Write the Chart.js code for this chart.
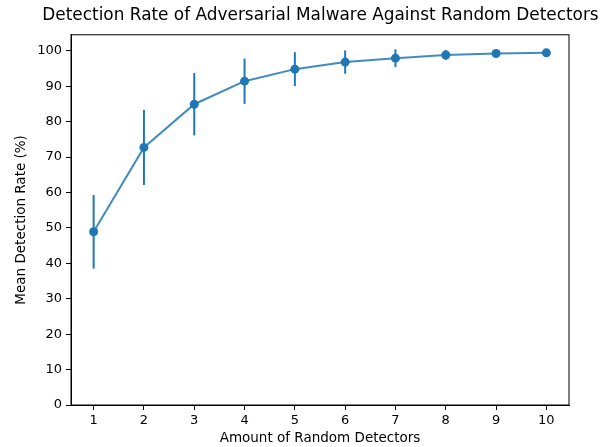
<!DOCTYPE html>
<html>
<head>
<meta charset="utf-8">
<script src="https://cdn.jsdelivr.net/npm/chart.js@4.4.0/dist/chart.umd.min.js"></script>
<style>
  html, body { margin: 0; padding: 0; background: #fff; }
  #wrap { width: 605px; height: 447px; }
</style>
</head>
<body>
<div id="wrap"><canvas id="detChart"></canvas></div>
<script>
// data
const detectors = [1, 2, 3, 4, 5, 6, 7, 8, 9, 10];
const meanRate = [48.9, 72.7, 84.9, 91.4, 94.8, 96.8, 97.9, 98.8, 99.2, 99.4];
const rateErr = [10.4, 10.6, 8.8, 6.4, 4.8, 3.3, 2.5, 1.4, 0.7, 0.3];
const yTicks = [0, 10, 20, 30, 40, 50, 60, 70, 80, 90, 100];

const blue = "#1f77b4";
const font = "DejaVu Sans";

// vertical error bars, no caps
const errorBars = {
  id: "errorBars",
  afterDatasetsDraw(chart) {
    const ctx = chart.ctx;
    const xs = chart.scales.x;
    const ys = chart.scales.y;
    ctx.save();
    ctx.strokeStyle = blue;
    ctx.lineWidth = 2;
    detectors.forEach((d, i) => {
      const px = xs.getPixelForValue(d);
      ctx.beginPath();
      ctx.moveTo(px, ys.getPixelForValue(meanRate[i] - rateErr[i]));
      ctx.lineTo(px, ys.getPixelForValue(meanRate[i] + rateErr[i]));
      ctx.stroke();
    });
    ctx.restore();
  },
};

// box around the plot area
const frame = {
  id: "frame",
  afterDraw(chart) {
    const a = chart.chartArea;
    const ctx = chart.ctx;
    ctx.save();
    ctx.strokeStyle = "#000";
    ctx.lineWidth = 1;
    ctx.strokeRect(a.left, a.top, a.right - a.left, a.bottom - a.top);
    ctx.restore();
  },
};

const ctx = document.getElementById("detChart").getContext("2d");

new Chart(ctx, {
  type: "scatter",
  data: {
    datasets: [{
      label: "Mean detection rate",
      data: detectors.map((d, i) => ({ x: d, y: meanRate[i] })),
      showLine: true,
      borderColor: "rgba(31,119,180,0.85)",
      borderWidth: 2,
      backgroundColor: blue,
      pointBackgroundColor: blue,
      pointBorderColor: blue,
      pointRadius: 4.5,
      pointBorderWidth: 0,
      tension: 0,
    }],
  },
  options: {
    responsive: true,
    maintainAspectRatio: false,
    animation: false,
    // left padding + empty right axis keep the title centred over the plot
    layout: { padding: { left: 36, right: 0, top: 0, bottom: 0 } },
    plugins: {
      legend: { display: false },
      tooltip: { enabled: false },
      title: {
        display: true,
        text: "Detection Rate of Adversarial Malware Against Random Detectors",
        color: "#000",
        font: { family: font, size: 16.9, weight: "normal", lineHeight: 1.2 },
        padding: { top: 5, bottom: 9.5 },
      },
    },
    scales: {
      x: {
        type: "linear",
        min: 0.55,
        max: 10.45,
        afterBuildTicks(scale) {
          scale.ticks = detectors.map(v => ({ value: v }));
        },
        afterFit(scale) { scale.height = 42; },
        grid: { drawOnChartArea: false, drawTicks: true, tickLength: 5, color: "#000" },
        border: { display: true, color: "#000" },
        ticks: { color: "#000", font: { family: font, size: 13 }, padding: 3, maxRotation: 0 },
        title: {
          display: true,
          text: "Amount of Random Detectors",
          color: "#000",
          font: { family: font, size: 13.5 },
          padding: { top: 0, bottom: 0 },
        },
      },
      y: {
        min: 0,
        max: 104.5,
        afterBuildTicks(scale) {
          scale.ticks = yTicks.map(v => ({ value: v }));
        },
        afterFit(scale) { scale.width = 35; },
        grid: { drawOnChartArea: false, drawTicks: true, tickLength: 5, color: "#000" },
        border: { display: true, color: "#000" },
        ticks: { color: "#000", font: { family: font, size: 13 }, padding: 4 },
        title: {
          display: true,
          text: "Mean Detection Rate (%)",
          color: "#000",
          font: { family: font, size: 13.5 },
          padding: { top: -23, bottom: 4 },
        },
      },
      yRight: {
        position: "right",
        min: 0,
        max: 104.5,
        afterFit(scale) { scale.width = 36; },
        grid: { display: false },
        border: { display: false },
        ticks: { display: false },
      },
    },
  },
  plugins: [errorBars, frame],
});
</script>
</body>
</html>
